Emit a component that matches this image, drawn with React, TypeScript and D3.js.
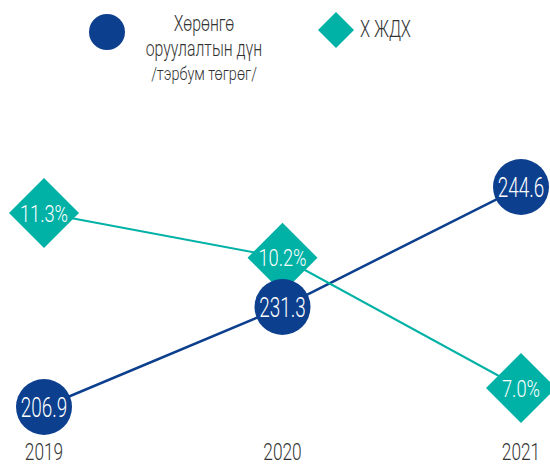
import React from "react";
import * as d3 from "d3";

const years = ["2019", "2020", "2021"];
const investment = [206.9, 231.3, 244.6];
const gdpGrowth = [11.3, 10.2, 7.0];
const investLabels = ["206.9", "231.3", "244.6"];
const growthLabels = ["11.3%", "10.2%", "7.0%"];
const legendInvest = ["Хөрөнгө", "оруулалтын дүн", "/тэрбум төгрөг/"];
const legendGrowth = "Х ЖДХ";

const W = 550;
const H = 465;
const NAVY = "#0c3f8e";
const TEAL = "#00b2a6";
const FONT = "Roboto, 'Noto Sans', sans-serif";

function CText({ x, y, size, fill, children, sx = 0.72, anchor = "middle" }: any) {
  return (
    <text
      transform={`translate(${x},${y}) scale(${sx},1)`}
      textAnchor={anchor}
      fontFamily={FONT}
      fontSize={size}
      fontWeight={300}
      fill={fill}
    >
      {children}
    </text>
  );
}

export default function App() {
  const x = d3.scalePoint<string>().domain(years).range([44, 521]);
  const yInv = d3.scaleLinear().domain([206.9, 231.3, 244.6]).range([407, 307, 187]);
  const yPct = d3.scaleLinear().domain([7.0, 11.3]).range([388, 213]);

  const invPts = years.map((yr, i) => [x(yr)!, yInv(investment[i])] as [number, number]);
  const pctPts = years.map((yr, i) => [x(yr)!, yPct(gdpGrowth[i])] as [number, number]);
  const line = d3.line();
  const R = 28;
  const D = 35;
  const diamond = (cx: number, cy: number, d: number) =>
    `M${cx},${cy - d}L${cx + d},${cy}L${cx},${cy + d}L${cx - d},${cy}Z`;

  return (
    <svg width={W} height={H} style={{ position: "absolute", left: 0, top: 0 }}>
      <rect width={W} height={H} fill="#fff" />
      {/* legend */}
      <circle cx={107} cy={32} r={18} fill={NAVY} />
      <CText x={204} y={31} size={22} fill="#333">{legendInvest[0]}</CText>
      <CText x={204} y={56} size={22} fill="#333">{legendInvest[1]}</CText>
      <CText x={204} y={80} size={19} sx={0.76} fill="#333">{legendInvest[2]}</CText>
      <path d={diamond(336, 30, 18)} fill={TEAL} />
      <CText x={360} y={37} size={23} fill="#333" anchor="start">{legendGrowth}</CText>

      {/* lines */}
      <path d={line(invPts)!} fill="none" stroke={NAVY} strokeWidth={2.5} />
      <path d={line(pctPts)!} fill="none" stroke={TEAL} strokeWidth={2} />

      {pctPts.map(([cx, cy], i) => (
        <path key={"d" + i} d={diamond(cx, cy, D)} fill={TEAL} />
      ))}
      {pctPts.map(([cx, cy], i) => (
        <CText key={"dt" + i} x={cx} y={cy + 8.5} size={24} sx={0.76} fill="#fff">
          {growthLabels[i]}
        </CText>
      ))}
      {invPts.map(([cx, cy], i) => (
        <g key={"c" + i}>
          <circle cx={cx} cy={cy} r={R} fill={NAVY} />
          <CText x={cx} y={cy + 10} size={27} sx={0.7} fill="#fff">
            {investLabels[i]}
          </CText>
        </g>
      ))}
      {years.map((yr) => (
        <CText key={yr} x={x(yr)!} y={460} size={24} sx={0.72} fill="#333">
          {yr}
        </CText>
      ))}
    </svg>
  );
}
